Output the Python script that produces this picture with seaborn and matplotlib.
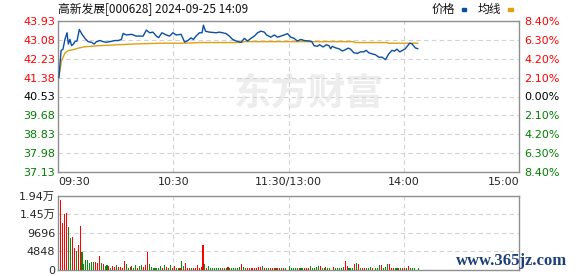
import numpy as np
import pandas as pd
import matplotlib
matplotlib.use("Agg")
import matplotlib.pyplot as plt
from matplotlib.patches import Rectangle
import seaborn as sns

# ---------------- data ----------------
title = "高新发展[000628] 2024-09-25 14:09"
legend_price = "价格"
legend_avg = "均线"
watermark = "东方财富"
site = "www.365jz.com"

price_ticks = [43.93, 43.08, 42.23, 41.38, 40.53, 39.68, 38.83, 37.98, 37.13]
price_tick_labels = ["43.93", "43.08", "42.23", "41.38", "40.53", "39.68", "38.83", "37.98", "37.13"]
pct_labels = ["8.40%", "6.30%", "4.20%", "2.10%", "0.00%", "2.10%", "4.20%", "6.30%", "8.40%"]
tick_sign = [1, 1, 1, 1, 0, -1, -1, -1, -1]
time_ticks = [0, 60, 120, 180, 240]
time_labels = ["09:30", "10:30", "11:30/13:00", "14:00", "15:00"]
vol_ticks = [0, 4848, 9696, 14544, 19392]
vol_labels = ["0", "4848", "9696", "1.45万", "1.94万"]

price_min = [0.5, 1.6, 2.6, 3.6, 4.7, 5.4, 6.2, 7.1, 8.0, 8.8, 9.9, 11.1, 12.3, 14.0,
             15.7, 17.5, 18.8, 20.0, 21.8, 23.5, 25.2, 27.0, 29.6, 31.3, 33.0, 33.9,
             35.6, 38.2, 40.8, 44.3, 46.0, 47.7, 49.4, 51.2, 52.4, 54.1, 56.4, 58.1,
             59.8, 61.5, 64.1, 65.9, 67.6, 69.3, 70.5, 71.9, 73.6, 75.0, 75.7, 76.8,
             78.8, 82.3, 84.0, 85.7, 87.5, 89.2, 90.9, 92.7, 95.3, 97.0, 98.7, 100.5,
             102.2, 103.9, 105.6, 107.4, 108.6, 110.8, 112.6, 114.3, 116.0, 117.7,
             119.5, 121.2, 122.9, 124.6, 126.4, 128.2, 130.7, 132.1, 133.3, 135.0,
             136.2, 138.0, 139.7, 141.1, 141.9, 142.8, 144.5, 146.3, 148.0, 149.7,
             151.1, 152.3, 154.0, 155.8, 157.5, 159.2, 160.4, 161.8, 163.5, 165.3,
             167.0, 168.7, 170.5, 172.2, 173.9, 175.1, 176.5, 177.9, 179.4, 180.8,
             183.1, 184.3, 186.0, 187.4]
price_val = [41.38, 42.60, 42.66, 43.10, 43.40, 42.89, 43.10, 42.82, 42.89, 43.00,
             43.03, 43.55, 43.36, 43.15, 43.00, 42.97, 42.89, 43.00, 43.05, 43.00,
             42.97, 43.00, 43.05, 43.05, 43.10, 43.37, 43.30, 43.33, 43.25, 43.25,
             43.52, 43.40, 43.43, 43.25, 43.18, 43.40, 43.30, 43.25, 43.40, 43.30,
             43.33, 42.98, 43.05, 43.17, 43.10, 43.25, 43.40, 43.40, 43.74, 43.47,
             43.43, 43.40, 43.43, 43.40, 43.36, 43.25, 43.10, 43.03, 42.97, 43.15,
             43.03, 43.15, 43.25, 43.40, 43.47, 43.43, 43.30, 43.20, 43.30, 43.20,
             43.25, 43.30, 43.36, 43.20, 43.15, 43.03, 43.10, 43.05, 43.03, 43.00,
             42.82, 42.79, 42.86, 42.76, 42.86, 42.82, 42.68, 42.79, 42.72, 42.68,
             42.58, 42.64, 42.71, 42.66, 42.50, 42.47, 42.54, 42.54, 42.61, 42.50,
             42.45, 42.41, 42.30, 42.30, 42.19, 42.45, 42.61, 42.57, 42.66, 42.54,
             42.61, 42.68, 42.93, 42.90, 42.72, 42.68]

avg_min = [0.5, 1.9, 3.6, 5.4, 8.0, 10.6, 14.0, 21.8, 38.2, 53.8, 65.9, 73.5, 95.9,
           96.5, 154.0, 154.5, 171.5, 172.0, 187.4]
avg_val = [41.45, 42.15, 42.48, 42.60, 42.64, 42.71, 42.77, 42.82, 42.89, 42.93,
           42.93, 42.96, 42.96, 43.00, 43.00, 42.96, 42.96, 42.93, 42.93]

vol_am = [18230, 12300, 14730, 15000, 11220, 8260, 8530, 5570, 4940, 6380,
          11490, 4490, 1350, 2600, 2600, 1800, 2070, 2070, 2070, 1800,
          3680, 1800, 1530, 810, 1080, 810, 270, 810, 540, 1080,
          540, 540, 270, 2330, 1350, 270, 540, 810, 270, 1080,
          270, 810, 1080, 540, 1080, 4490, 1530, 540, 270, 270,
          270, 270, 810, 270, 1080, 540, 270, 1080, 270, 810,
          270, 270, 270, 2330, 810, 1800, 270, 270, 270, 270,
          270, 1080, 270, 540, 6380, 1350, 270, 810, 270, 270,
          270, 270, 270, 270, 270, 270, 270, 540, 270, 270,
          270, 270, 270, 540, 1350, 540, 270, 270, 270, 270,
          270, 270, 270, 540, 540, 810, 270, 270, 270, 270,
          270, 270, 270, 270, 270, 270, 270, 270, 810]
dir_am = list("rrrrggrrgr" "rgggggggrr" "rgrggrgrrg" "rrrrgggrgg" "rggrrrgggg"
              "gggrgrggrr"
              "ggrggrrrgr" "rrrrrgrggg" "ggggrggrgg" "ggggrggrrr" "rrrrrgrggr"
              "rrgrrgrgg")

vol_pm = [270, 270, 270, 400, 270, 270, 270, 270, 270, 270,
          810, 270, 270, 630, 810, 810, 270, 270, 540, 270,
          400, 540, 270, 270, 270, 270, 540, 2150, 810, 270,
          270, 270, 1440, 1700, 1440, 270, 400, 400, 270, 270,
          540, 270, 270, 400, 1170, 1170, 270, 630, 1440, 1440,
          400, 400, 270, 270, 270, 400, 270, 270, 270, 900,
          270, 400, 270, 270]
dir_pm = list("ggggrggrrr" "gggggrggrg" "grgggggrrg" "ggrgrgrrgg" "grgggrgggr"
              "rrggrgrrgr" "gggg")

# ---------------- style ----------------
sns.set_style("white")
plt.rcParams["font.family"] = ["DejaVu Sans", "Noto Sans CJK SC"]
cjk = ["Noto Sans CJK SC", "DejaVu Sans"]

RED = "#ff0000"
GREEN = "#008000"
BAR_GREEN = "#0a8a0a"
BLUE = "#0a4fa3"
ORANGE = "#e0a010"
GRID = "#d2d2d2"
SPINE = "#8f8f8f"

W, H = 578, 276
fig = plt.figure(figsize=(W / 100, H / 100), dpi=100)
fig.patch.set_facecolor("white")


def fx(px):
    return px / W


def fy(py):
    return 1 - py / H


ax = fig.add_axes([fx(58), fy(172), fx(519) - fx(58), fy(21) - fy(172)])
axv = fig.add_axes([fx(58), fy(269.5), fx(519) - fx(58), fy(196) - fy(269.5)])

# ---------------- main price panel ----------------
ax.text(0.545, 0.52, watermark, transform=ax.transAxes, ha="center", va="center",
        fontsize=27, fontweight="bold", color="#ededed", family=cjk, zorder=0)

sns.lineplot(x=avg_min, y=avg_val, ax=ax, color=ORANGE, lw=1.0, zorder=3)
sns.lineplot(x=price_min, y=price_val, ax=ax, color=BLUE, lw=1.0, zorder=4)

ax.set_xlim(0, 240)
ax.set_ylim(min(price_ticks), max(price_ticks))
ax.set_yticks(price_ticks)
ax.set_yticklabels(price_tick_labels)
ax.set_xticks(time_ticks)
ax.set_xticklabels(time_labels)
ax.tick_params(axis="both", length=0, labelsize=8)
ax.tick_params(axis="y", pad=2)
ax.tick_params(axis="x", pad=3.5)
lbls = ax.get_xticklabels()
lbls[0].set_ha("left")
lbls[-1].set_ha("right")
for lab, s in zip(ax.get_yticklabels(), tick_sign):
    lab.set_color(RED if s > 0 else (GREEN if s < 0 else "black"))

ax.grid(True, color=GRID, ls=(0, (4, 3)), lw=0.8)
for sp in ax.spines.values():
    sp.set_color(SPINE)
    sp.set_linewidth(1.0)
ax.set_xlabel("")
ax.set_ylabel("")

ax2 = ax.twinx()
ax2.set_ylim(ax.get_ylim())
ax2.set_yticks(price_ticks)
ax2.set_yticklabels(pct_labels)
ax2.tick_params(axis="y", length=0, labelsize=8, pad=4)
for lab, s in zip(ax2.get_yticklabels(), tick_sign):
    lab.set_color(RED if s > 0 else (GREEN if s < 0 else "black"))
for sp in ax2.spines.values():
    sp.set_visible(False)

# ---------------- volume panel ----------------
vdf = pd.DataFrame({
    "minute": np.concatenate([np.linspace(1, 120, len(vol_am)),
                              np.linspace(121, 187, len(vol_pm))]),
    "vol": np.array(vol_am + vol_pm, dtype=float),
    "dir": dir_am + dir_pm,
})
sns.histplot(data=vdf, x="minute", weights="vol", hue="dir",
             palette={"r": RED, "g": BAR_GREEN}, hue_order=["r", "g"],
             binwidth=1, binrange=(0, 240), shrink=0.55, multiple="layer",
             element="bars", fill=True, alpha=1, linewidth=0, legend=False,
             antialiased=False, ax=axv, zorder=3)
axv.set_xlim(0, 240)
axv.set_ylim(0, max(vol_ticks))
axv.set_yticks(vol_ticks)
axv.set_yticklabels(vol_labels)
axv.set_xticks([60, 120, 180])
axv.set_xticklabels([])
axv.tick_params(axis="both", length=0, labelsize=8)
axv.tick_params(axis="y", pad=2)
axv.grid(True, color=GRID, ls=(0, (4, 3)), lw=0.8)
axv.set_xlabel("")
axv.set_ylabel("")
for sp in axv.spines.values():
    sp.set_color(SPINE)
    sp.set_linewidth(1.0)

# ---------------- header ----------------
fig.text(fx(58), fy(9.5), title, ha="left", va="center", fontsize=8.5,
         family=cjk, color="#111111")
fig.text(fx(432), fy(9.5), legend_price, ha="left", va="center", fontsize=8.5,
         family=cjk, color="#111111")
fig.patches.append(Rectangle((fx(462), fy(11)), fx(4), fy(8) - fy(11),
                             transform=fig.transFigure, color=BLUE))
fig.text(fx(478), fy(9.5), legend_avg, ha="left", va="center", fontsize=8.5,
         family=cjk, color="#111111")
fig.patches.append(Rectangle((fx(508), fy(11)), fx(5), fy(8) - fy(11),
                             transform=fig.transFigure, color=ORANGE))

fig.text(fx(512), fy(261), site, ha="center", va="center", fontsize=12,
         family=["Liberation Serif", "DejaVu Serif"], fontweight="bold",
         color="#1d3f7a")

fig.savefig("out.png", dpi=100, facecolor="white")
